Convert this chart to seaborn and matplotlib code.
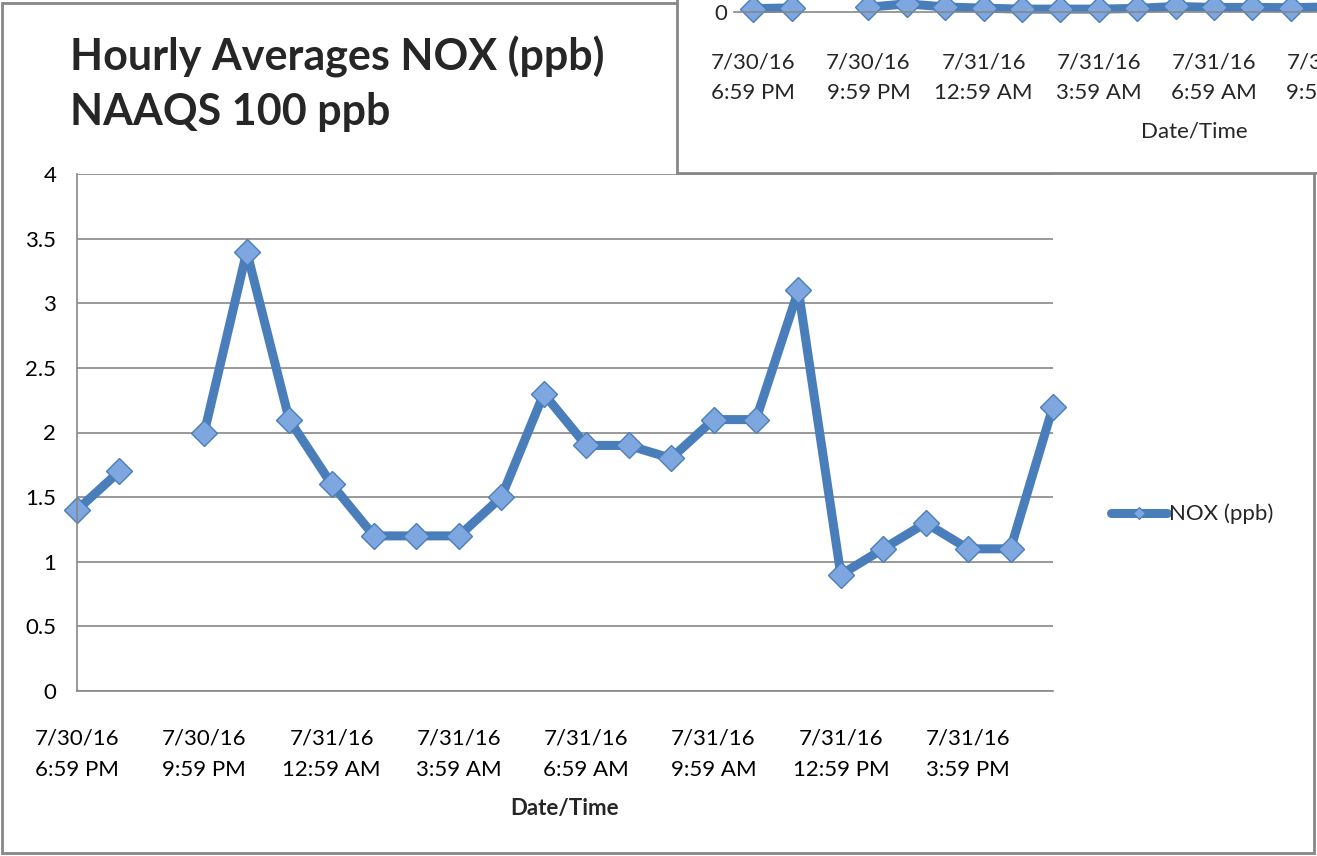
import matplotlib
matplotlib.use("Agg")
import matplotlib.pyplot as plt
from matplotlib.patches import Rectangle
from matplotlib.lines import Line2D
import numpy as np
import pandas as pd
import seaborn as sns

# Data: hourly NOX averages, 7/30/16 6:59 PM .. 7/31/16 5:59 PM (hour 2 missing)
hours = list(range(24))
nox_ppb = [1.4, 1.7, np.nan, 2.0, 3.4, 2.1, 1.6, 1.2, 1.2, 1.2, 1.5, 2.3,
           1.9, 1.9, 1.8, 2.1, 2.1, 3.1, 0.9, 1.1, 1.3, 1.1, 1.1, 2.2]
label_hours = [0, 3, 6, 9, 12, 15, 18, 21]
tick_labels = ["7/30/16\n6:59 PM", "7/30/16\n9:59 PM", "7/31/16\n12:59 AM",
               "7/31/16\n3:59 AM", "7/31/16\n6:59 AM", "7/31/16\n9:59 AM",
               "7/31/16\n12:59 PM", "7/31/16\n3:59 PM"]
y_ticks = [0, 0.5, 1, 1.5, 2, 2.5, 3, 3.5, 4]
series_name = "NOX (ppb)"

df = pd.DataFrame({"hour": hours, "nox": nox_ppb})
df["segment"] = df["nox"].isna().cumsum()
df = df.dropna()

sns.set_style("white")
plt.rcParams["font.family"] = ["Lato", "DejaVu Sans"]

W, H = 1317, 856
fig = plt.figure(figsize=(W / 100, H / 100), dpi=100)
fig.patch.set_facecolor("white")


def fx(px):
    return px / W


def fy(py):
    return 1 - py / H


line_color = "#4A7EBB"
marker_face = "#7EA6DF"
gray = "#878787"

line_kws = dict(units="segment", estimator=None, color=line_color, lw=6.5,
                marker="D", ms=13, mfc=marker_face, mec=line_color, mew=1,
                clip_on=False, legend=False)

# outer chart border
fig.add_artist(Rectangle((fx(2), fy(853)), 1312 / W, 850 / H, transform=fig.transFigure,
                         facecolor="none", edgecolor=gray, lw=2, zorder=0.5))

# main chart
ax = fig.add_axes([fx(77), fy(691), (1053 - 77) / W, (691 - 174) / H])
sns.lineplot(data=df, x="hour", y="nox", ax=ax, **line_kws)
ax.set_xlim(0, 23)
ax.set_ylim(0, 4)
ax.set_yticks(y_ticks)
ax.set_yticklabels([f"{v:g}" for v in y_ticks])
labels = [""] * len(hours)
for h, t in zip(label_hours, tick_labels):
    labels[h] = t
ax.set_xticks(hours)
ax.set_xticklabels(labels, linespacing=1.7)
ax.yaxis.grid(True, color=gray, lw=1.2)
ax.xaxis.grid(False)
for s in ["top", "right"]:
    ax.spines[s].set_visible(False)
for s in ["left", "bottom"]:
    ax.spines[s].set_color(gray)
    ax.spines[s].set_linewidth(1.2)
ax.tick_params(axis="both", direction="out", length=6, width=1.2, color=gray,
               labelsize=16, labelcolor="black")
ax.tick_params(axis="x", pad=21)
ax.tick_params(axis="y", pad=9)
ax.set_xlabel("Date/Time", fontsize=16, fontweight="bold", labelpad=13)
ax.set_ylabel("")

# legend
handle = Line2D([], [], color=line_color, lw=6.5, marker="D", ms=6,
                mfc=marker_face, mec=line_color, mew=0.8)
fig.legend([handle], [series_name], loc="center left", bbox_to_anchor=(fx(1100), fy(514)),
           frameon=False, handlelength=2.5, handletextpad=0.1, borderpad=0,
           fontsize=16)

# title
fig.text(fx(70), fy(57), "Hourly Averages NOX (ppb)", fontsize=31, fontweight="bold",
         ha="left", va="center")
fig.text(fx(70), fy(112), "NAAQS 100 ppb", fontsize=31, fontweight="bold",
         ha="left", va="center")

# overlapping chart fragment, top right
fig.add_artist(Rectangle((fx(677), fy(173)), 700 / W, 200 / H, transform=fig.transFigure,
                         facecolor="white", edgecolor=gray, lw=2, zorder=1))
ax2 = fig.add_axes([fx(734), fy(12), 921.6 / W, 288 / H])
ax2.set_zorder(2)
ax2.patch.set_visible(False)
sns.lineplot(data=df, x="hour", y="nox", ax=ax2, **line_kws)
ax2.set_xlim(-0.5, 23.5)
ax2.set_ylim(0, 120)
ax2.set_yticks([0])
ax2.set_yticklabels(["0"])
ax2.set_xticks(hours)
ax2.set_xticklabels(labels, linespacing=1.7)
for s in ["top", "right", "left"]:
    ax2.spines[s].set_visible(False)
ax2.spines["bottom"].set_color(gray)
ax2.spines["bottom"].set_linewidth(1.2)
ax2.tick_params(axis="x", direction="out", length=6, width=1.2, color=gray,
                labelsize=16, pad=23)
ax2.tick_params(axis="y", length=0, labelsize=16, pad=5)
ax2.set_xlabel("Date/Time", fontsize=16, labelpad=13)
ax2.set_ylabel("")

fig.savefig("out.png", dpi=100)
